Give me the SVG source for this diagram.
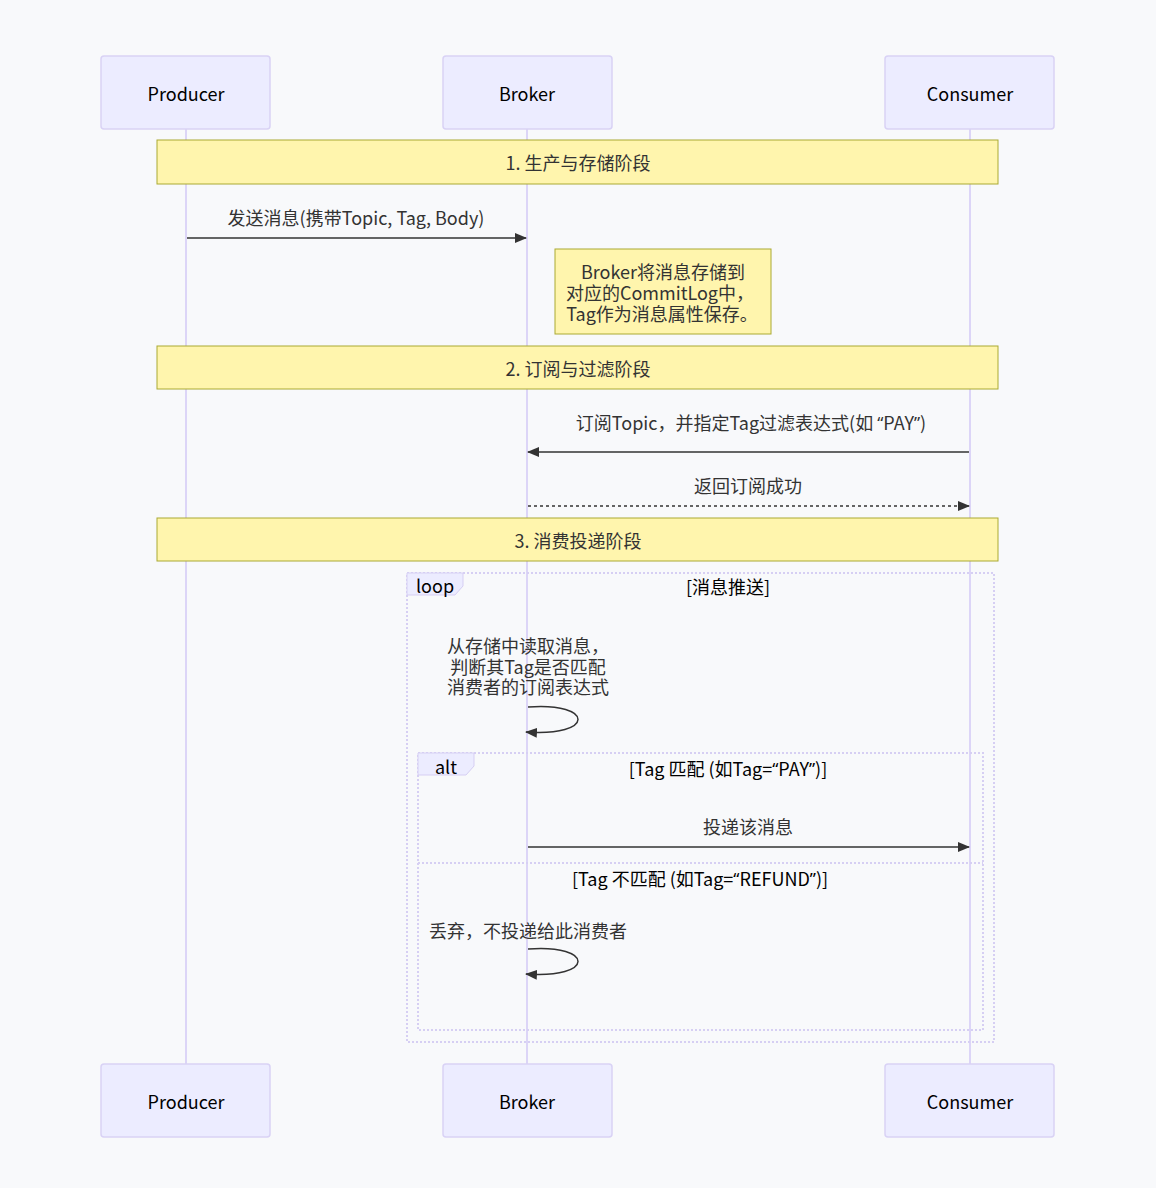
<svg xmlns="http://www.w3.org/2000/svg" width="1156" height="1188" viewBox="0 0 1156 1188">
<defs>
<style>
text{font-family:"Noto Sans CJK SC","Noto Sans",sans-serif;font-size:18px;fill:#333;text-anchor:middle;dominant-baseline:central}
.q{font-family:"Noto Sans",sans-serif;font-size:17px}
.actor{fill:#ECECFF;stroke:#d9d2f5;stroke-width:1.5}
.actor-t{fill:#000}
.life{stroke:#dcd5f7;stroke-width:2}
.note{fill:#fff5ad;stroke:#aaaa33;stroke-width:1}
.msg{stroke:#333;stroke-width:1.5;fill:none}
.dash{stroke-dasharray:3,3}
.frame{fill:none;stroke:#d6cff3;stroke-width:2;stroke-dasharray:2,2}
.lbl{fill:#ECECFF;stroke:#d6cff3;stroke-width:1}
.lt{fill:#000}
</style>
<marker id="ah" viewBox="0 0 12 10" refX="11" refY="5" markerWidth="12" markerHeight="10" markerUnits="userSpaceOnUse" orient="auto-start-reverse">
<path d="M0,0 L12,5 L0,10 z" fill="#333"/>
</marker>
</defs>
<rect width="1156" height="1188" fill="#f8f9fb"/>
<g id="lifelines">
<line class="life" x1="186" y1="129" x2="186" y2="1064"/>
<line class="life" x1="527" y1="129" x2="527" y2="1064"/>
<line class="life" x1="970" y1="129" x2="970" y2="1064"/>
</g>
<g id="actor-producer-top"><rect class="actor" x="101" y="56" width="169" height="73" rx="3"/><text class="actor-t" x="186" y="93">Producer</text></g>
<g id="actor-broker-top"><rect class="actor" x="443" y="56" width="169" height="73" rx="3"/><text class="actor-t" x="527" y="93">Broker</text></g>
<g id="actor-consumer-top"><rect class="actor" x="885" y="56" width="169" height="73" rx="3"/><text class="actor-t" x="970" y="93">Consumer</text></g>
<g id="actor-producer-bottom"><rect class="actor" x="101" y="1064" width="169" height="73" rx="3"/><text class="actor-t" x="186" y="1101">Producer</text></g>
<g id="actor-broker-bottom"><rect class="actor" x="443" y="1064" width="169" height="73" rx="3"/><text class="actor-t" x="527" y="1101">Broker</text></g>
<g id="actor-consumer-bottom"><rect class="actor" x="885" y="1064" width="169" height="73" rx="3"/><text class="actor-t" x="970" y="1101">Consumer</text></g>
<g id="note-1"><rect class="note" x="157" y="140" width="841" height="44"/><text x="578" y="162">1. 生产与存储阶段</text></g>
<g id="note-store"><rect class="note" x="555" y="249" width="216" height="85"/><text x="663" y="271">Broker将消息存储到</text><text x="660" y="292">对应的CommitLog中，</text><text x="662" y="313">Tag作为消息属性保存。</text></g>
<g id="note-2"><rect class="note" x="157" y="346" width="841" height="43"/><text x="578" y="368">2. 订阅与过滤阶段</text></g>
<g id="note-3"><rect class="note" x="157" y="518" width="841" height="43"/><text x="578" y="540">3. 消费投递阶段</text></g>
<g id="loop-frame">
<rect class="frame" x="407" y="573" width="587" height="469"/>
<polygon class="lbl" points="407,573 463,573 463,586 455,595 407,595"/>
<text class="lt" x="435" y="585">loop</text>
<text class="lt" x="728" y="586">[消息推送]</text>
</g>
<g id="alt-frame">
<rect class="frame" x="418" y="753" width="565" height="277"/>
<polygon class="lbl" points="418,753 474,753 474,766 466,775 418,775"/>
<text class="lt" x="446" y="766">alt</text>
<text class="lt" x="728" y="768">[Tag 匹配 (如Tag=<tspan class="q">“</tspan>PAY<tspan class="q">”</tspan>)]</text>
<line class="frame" x1="418" y1="863" x2="983" y2="863"/>
<text class="lt" x="700" y="878">[Tag 不匹配 (如Tag=<tspan class="q">“</tspan>REFUND<tspan class="q">”</tspan>)]</text>
</g>
<g id="connectors">
<text x="356" y="217">发送消息(携带Topic, Tag, Body)</text>
<line class="msg" x1="187" y1="238" x2="526" y2="238" marker-end="url(#ah)"/>
<text x="751" y="422">订阅Topic，并指定Tag过滤表达式(如 <tspan class="q">“</tspan>PAY<tspan class="q">”</tspan>)</text>
<line class="msg" x1="969" y1="452" x2="528" y2="452" marker-end="url(#ah)"/>
<text x="748" y="485">返回订阅成功</text>
<line class="msg dash" x1="528" y1="506" x2="969" y2="506" marker-end="url(#ah)"/>
<text x="528" y="645">从存储中读取消息，</text>
<text x="528" y="666">判断其Tag是否匹配</text>
<text x="528" y="686">消费者的订阅表达式</text>
<path class="msg" d="M528,707 C595,702 595,737 526,732" marker-end="url(#ah)"/>
<text x="748" y="826">投递该消息</text>
<line class="msg" x1="528" y1="847" x2="969" y2="847" marker-end="url(#ah)"/>
<text x="528" y="930">丢弃，不投递给此消费者</text>
<path class="msg" d="M528,949 C595,944 595,979 526,974" marker-end="url(#ah)"/>
</g>
</svg>
